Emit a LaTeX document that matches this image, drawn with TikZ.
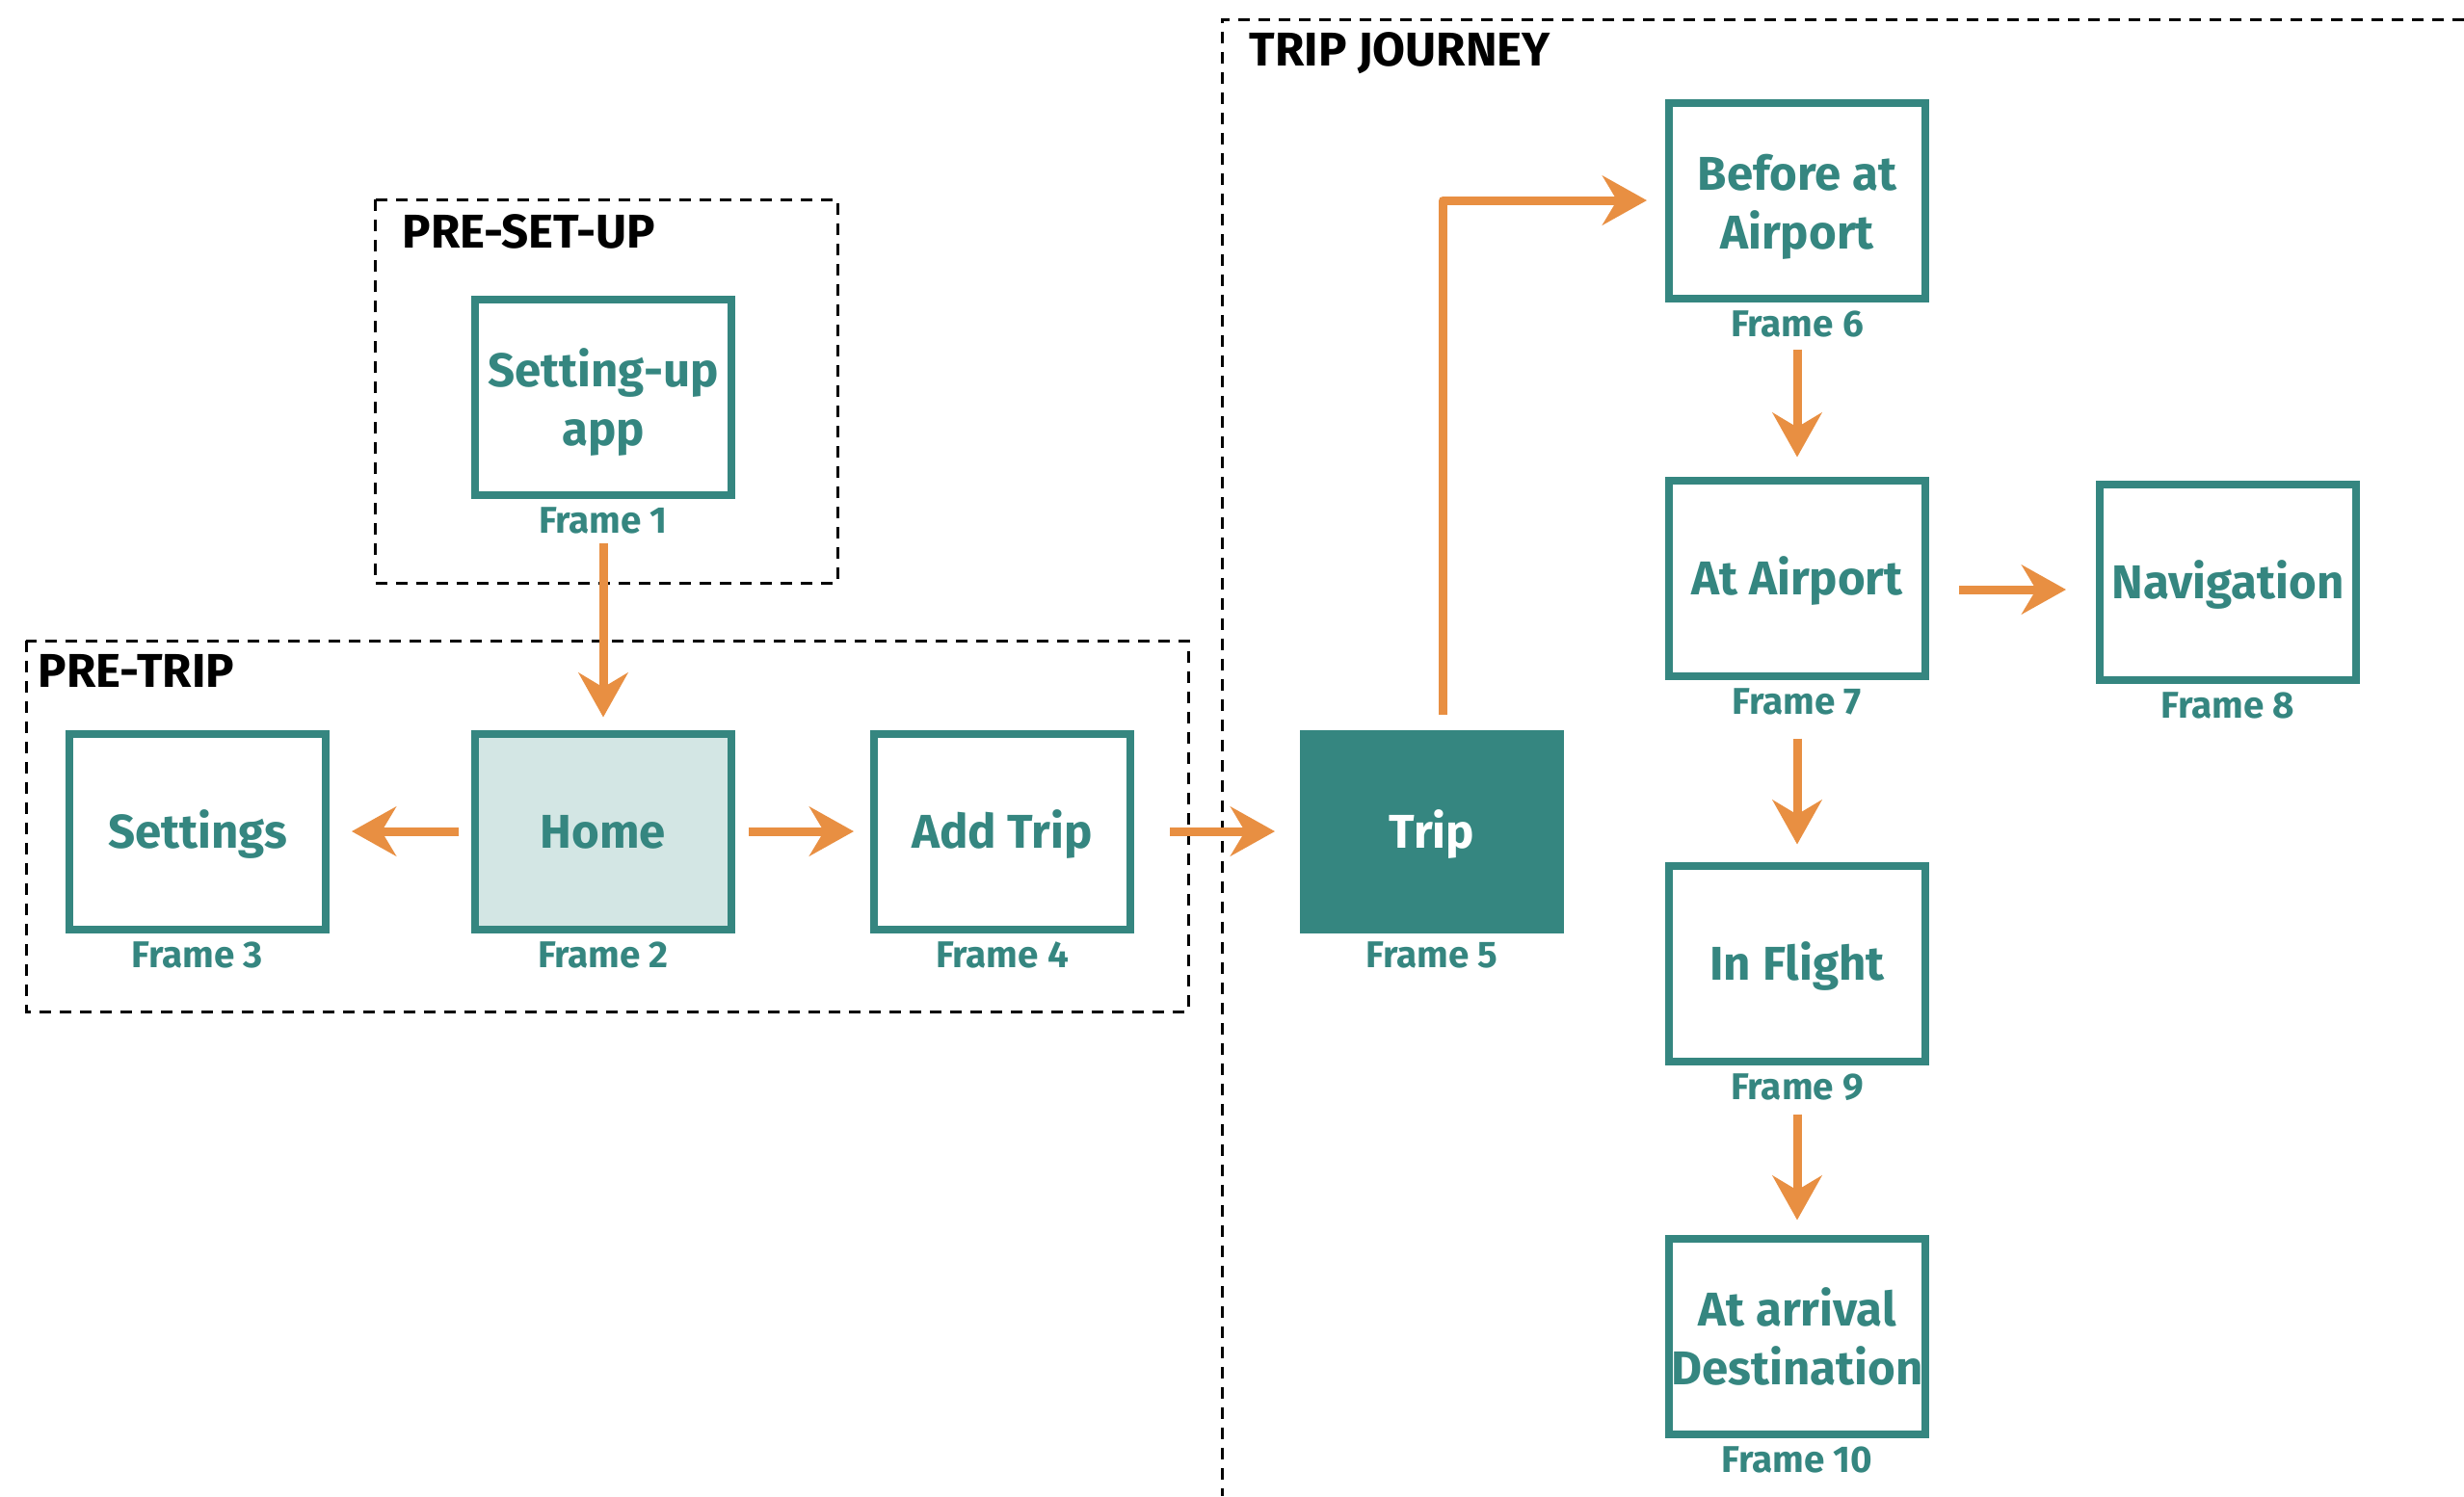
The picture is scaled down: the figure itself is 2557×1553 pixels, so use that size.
\documentclass[tikz,border=0pt]{standalone}
\usepackage{fontspec}
\setmainfont{Fira Sans}
\usetikzlibrary{arrows.meta}
\definecolor{frameteal}{RGB}{53,134,128}
\definecolor{floworange}{RGB}{232,143,66}
\definecolor{homefill}{RGB}{211,230,228}
% struts that balance a two-line label around its cap-to-baseline span
\newcommand{\topstrut}{\rule{0pt}{5.2mm}}
\newcommand{\botstrut}{\rule[-1.2mm]{0pt}{1.2mm}}
\begin{document}
\begin{tikzpicture}[x=0.1mm,y=-0.1mm,
  screen/.style={draw=frameteal, line width=0.8mm, minimum width=26.6mm,
    minimum height=20.3mm, inner sep=0pt, align=center, text=frameteal,
    font=\bfseries\fontsize{14}{17.4}\selectfont,
    text height=3.4mm, text depth=0pt},
  twoline/.style={text height=, text depth=},
  caption/.style={anchor=base, inner sep=0pt, text=frameteal,
    font=\bfseries\fontsize{11}{13}\selectfont},
  group/.style={draw=black, line width=0.3mm, dash pattern=on 1.2mm off 0.9mm},
  heading/.style={anchor=base west, inner sep=0pt,
    font=\bfseries\fontsize{14}{16}\selectfont},
  flow/.style={draw=floworange, line width=0.9mm, line join=round,
    -{Stealth[length=4.6mm,width=5.1mm,inset=1.5mm]}},
]
\useasboundingbox (0,0) rectangle (2557,1553);

% dashed stage groups
\draw[group] (389,207) rectangle (869,605);
\draw[group] (27,665) rectangle (1233,1050);
\draw[group] (2557,20) -- (1268,20) -- (1268,1553);

\node[heading] (hsetup) at (417,257) {PRE-SET-UP};
\node[heading] (hpretrip) at (39,713) {PRE-TRIP};
\node[heading] (hjourney) at (1296,68) {TRIP JOURNEY};

% screens
\node[screen, twoline] (s1) at (626,412) {\topstrut Setting-up\\app\botstrut};
\node[screen, fill=homefill] (s2) at (626,863) {Home};
\node[screen] (s3) at (205,863) {Settings};
\node[screen] (s4) at (1040,863) {Add Trip};
\node[screen, fill=frameteal, text=white] (s5) at (1486,863) {Trip};
\node[screen, twoline] (s6) at (1865,208) {\topstrut Before at\\Airport\botstrut};
\node[screen] (s7) at (1865,600) {At Airport};
\node[screen] (s8) at (2312,604) {Navigation};
\node[screen] (s9) at (1865,1000) {In Flight};
\node[screen, twoline] (s10) at (1865,1387) {\topstrut At arrival\\Destination\botstrut};

% frame captions
\foreach \n in {1,...,10}
  \node[caption] (f\n) at ([yshift=-3.6mm]s\n.south) {Frame \n};

% flow
\draw[flow, shorten <=4.6mm, shorten >=1.3mm] (s1.south) -- (s2.north);
\draw[flow, shorten <=1.3mm, shorten >=2.3mm] (s2.west) -- (s3.east);
\draw[flow, shorten <=1.4mm, shorten >=1.7mm] (s2.east) -- (s4.west);
\draw[flow, shorten <=3.7mm, shorten >=2.6mm] (s4.east) -- (s5.west);
\draw[flow, shorten <=1.6mm, shorten >=1.9mm] ([xshift=1.1mm]s5.north) |- (s6.west);
\draw[flow, shorten <=4.9mm, shorten >=2.0mm] (s6.south) -- (s7.north);
\coordinate (navin) at ([yshift=-0.8mm]s8.west);
\draw[flow, shorten <=3.1mm, shorten >=3.1mm] (s7.east |- navin) -- (navin);
\draw[flow, shorten <=6.1mm, shorten >=1.8mm] (s7.south) -- (s9.north);
\draw[flow, shorten <=5.1mm, shorten >=1.5mm] (s9.south) -- (s10.north);
\end{tikzpicture}
\end{document}
